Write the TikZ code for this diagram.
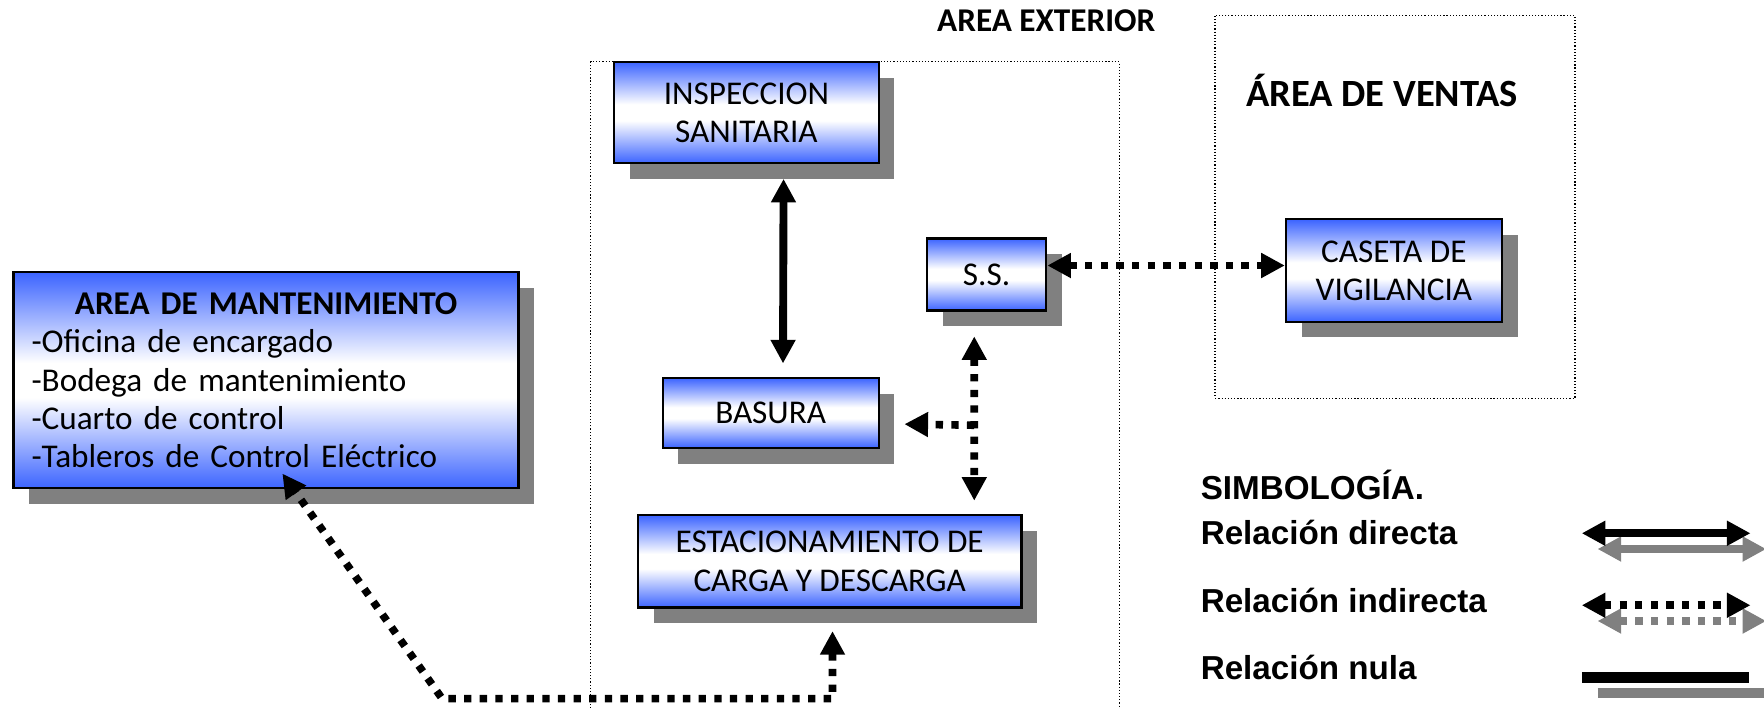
\documentclass[tikz,border=0pt]{standalone}
\usepackage{fontspec}
\setmainfont{Carlito}
\newfontfamily\legendfont{Liberation Sans}
\usepackage{tikz}
\usetikzlibrary{arrows.meta,positioning,calc,shadows}
\definecolor{boxblue}{RGB}{60,100,255}
\definecolor{shadowgray}{RGB}{128,128,128}
\pgfdeclareverticalshading{boxshade}{100bp}{color(0bp)=(boxblue); color(25bp)=(boxblue); color(46bp)=(white); color(54bp)=(white); color(75bp)=(boxblue); color(100bp)=(boxblue)}

\begin{document}
\begin{tikzpicture}[
    x=0.02cm, y=-0.02cm,
    >={Triangle[length=0.42cm, width=0.42cm]},
    every node/.style={align=center},
    boxfont/.style={font=\fontsize{16.8}{19.3}\selectfont},
    area/.style={rectangle, draw=black, line width=1.1pt, shade, shading=boxshade, inner sep=0pt, boxfont,
        drop shadow={shadow xshift=0.28cm, shadow yshift=-0.28cm, fill=shadowgray, opacity=1}},
    frame/.style={draw=black, line width=0.6pt, densely dotted},
    direct/.style={line width=0.14cm, black},
    indirect/.style={line width=0.136cm, black, dash pattern=on 0.13cm off 0.148cm},
    nula/.style={line width=0.19cm, black},
    legend/.style={anchor=base west, inner sep=0pt, font=\legendfont\bfseries\fontsize{16.8}{19.3}\selectfont}
]
    \useasboundingbox (0,0) rectangle (1568,630);

    % zone frames
    \draw[frame] (525,632) |- (995,55) -- (995,632);
    \draw[frame] (1080,14) rectangle (1400,354);
    \node[anchor=base, inner sep=0pt, font=\bfseries\fontsize{16.8}{19.3}\selectfont] (extlabel) at (930,28) {AREA EXTERIOR};
    \node[anchor=base, inner sep=0pt, font=\bfseries\fontsize{19.5}{23}\selectfont] (ventaslabel) at (1228.5,95) {ÁREA DE VENTAS};

    % areas
    \node[area, minimum width=4.7cm, minimum height=1.8cm] (insp) at (663.5,100) {INSPECCION\\SANITARIA};
    \node[area, minimum width=2.12cm, minimum height=1.28cm] (ss) at (877,244) {S.S.};
    \node[area, minimum width=3.84cm, minimum height=1.82cm] (caseta) at (1239,240.5) {CASETA DE\\VIGILANCIA};
    \node[area, minimum width=3.84cm, minimum height=1.24cm] (basura) at (685,367) {BASURA};
    \node[area, minimum width=6.82cm, minimum height=1.64cm] (estac) at (737.5,499) {ESTACIONAMIENTO DE\\CARGA Y DESCARGA};
    \node[area, minimum width=8.98cm, minimum height=3.84cm, text width=8.34cm, align=left] (mant) at (236.5,338)
        {\makebox[\linewidth]{\textbf{AREA DE MANTENIMIENTO}}\\-Oficina de encargado\\-Bodega de mantenimiento\\-Cuarto de control\\-Tableros de Control Eléctrico};

    % relations
    \coordinate (junction) at ([shift={(-11,101)}]ss.south);
    \coordinate (mantport) at ([shift={(14.5,-14)}]mant.south);
    \coordinate (bend) at (393,621);

    \draw[direct, <->] ([shift={(33,13)}]insp.south) -- ([shift={(11,-12)}]basura.north);
    \draw[indirect, <->] ([shift={(0,-8)}]ss.east) -- ([shift={(0,-4.5)}]caseta.west);
    \draw[indirect, <->] ([shift={(-11,22)}]ss.south) -- ([shift={(128.5,-12)}]estac.north);
    \draw[indirect, ->] (junction) -- ([shift={(22,10)}]basura.east);
    \draw[indirect, <->] ([shift={(2.5,20)}]estac.south) |- (bend) -- (mantport);

    % legend
    \node[legend] (simb) at (1067,443.8) {SIMBOLOGÍA.};
    \node[legend] (lgdirect) at (1067,483.8) {Relación directa};
    \node[legend] (lgindirect) at (1067,544.6) {Relación indirecta};
    \node[legend] (lgnula) at (1067,603.8) {Relación nula};

    \coordinate (d1) at (1406,474);
    \coordinate (d2) at (1556,474);
    \coordinate (i1) at (1406,538);
    \coordinate (i2) at (1556,538);
    \coordinate (n1) at (1406,602);
    \coordinate (n2) at (1555,602);

    \draw[direct, <->, shadowgray] ([shift={(14,14)}]d1) -- ([shift={(14,14)}]d2);
    \draw[direct, <->] (d1) -- (d2);
    \draw[indirect, <->, shadowgray] ([shift={(14,14)}]i1) -- ([shift={(14,14)}]i2);
    \draw[indirect, <->] (i1) -- (i2);
    \draw[nula, shadowgray] ([shift={(14,14)}]n1) -- ([shift={(14,14)}]n2);
    \draw[nula] (n1) -- (n2);
\end{tikzpicture}
\end{document}
